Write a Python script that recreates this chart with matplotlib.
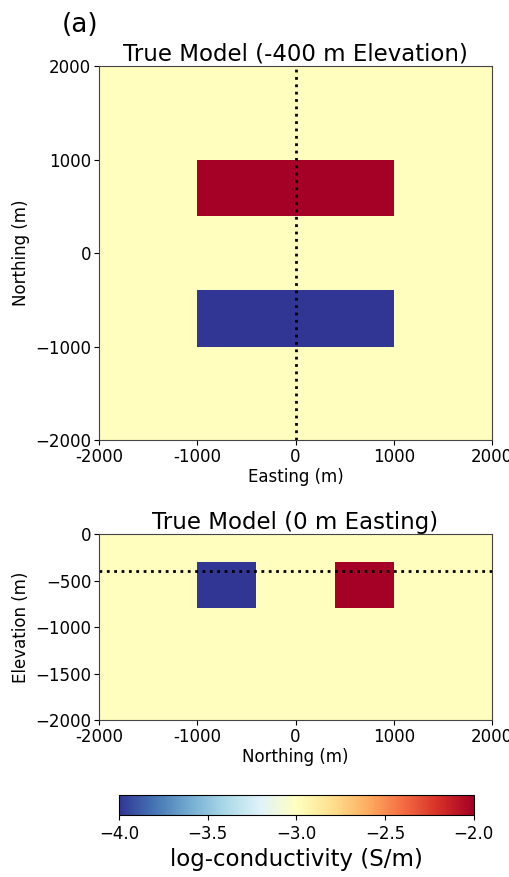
import numpy as np
import matplotlib.pyplot as plt

# === Model values ===
background = -3.0
# plan view (-400 m elevation): [x0, x1, y0, y1, log-conductivity]
plan_blocks = [
    [-1000, 1000, 400, 1000, -2.0],
    [-1000, 1000, -1000, -400, -4.0],
]
# section (0 m easting): [north0, north1, z0, z1, log-conductivity]
section_blocks = [
    [-1000, -400, -800, -300, -4.0],
    [400, 1000, -800, -300, -2.0],
]
xticks = [-2000, -1000, 0, 1000, 2000]
xticklabels = ["-2000", "-1000", "0", "1000", "2000"]
cbar_ticks = [-4.0, -3.5, -3.0, -2.5, -2.0]

# === Grid ===
dx = 50
x_edges = np.arange(-2000, 2000 + dx, dx)
y_edges = np.arange(-2000, 2000 + dx, dx)
z_edges = np.arange(-2000, 0 + dx, dx)


def fill_model(xe, ye, blocks):
    xc = 0.5 * (xe[:-1] + xe[1:])
    yc = 0.5 * (ye[:-1] + ye[1:])
    X, Y = np.meshgrid(xc, yc)
    m = np.full(X.shape, background)
    for x0, x1, y0, y1, v in blocks:
        m[(X > x0) & (X < x1) & (Y > y0) & (Y < y1)] = v
    return m


plan = fill_model(x_edges, y_edges, plan_blocks)
section = fill_model(y_edges, z_edges, section_blocks)

cmap = "RdYlBu_r"
norm = dict(vmin=-4, vmax=-2)
fs_tick = 12
fs_lab = 12
fs_title = 16.5

fig = plt.figure(figsize=(5.1, 8.77), dpi=100)

# === Plan view ===
ax1 = fig.add_axes([0.194, 0.4983, 0.771, 0.4264])
ax1.pcolormesh(x_edges, y_edges, plan, cmap=cmap, **norm)
ax1.axvline(0, color="k", ls=":", lw=2)
ax1.set_xlim(-2000, 2000)
ax1.set_ylim(-2000, 2000)
ax1.set_xticks(xticks)
ax1.set_xticklabels(xticklabels)
ax1.set_yticks(xticks)
ax1.set_xlabel("Easting (m)", fontsize=fs_lab, labelpad=2)
ax1.set_ylabel("Northing (m)", fontsize=fs_lab)
ax1.set_title("True Model (-400 m Elevation)", fontsize=fs_title, pad=4)
ax1.tick_params(labelsize=fs_tick, pad=2)
fig.text(0.121, 0.972, "(a)", fontsize=19, va="center")

# === Section view ===
ax2 = fig.add_axes([0.194, 0.179, 0.771, 0.212])
im = ax2.pcolormesh(y_edges, z_edges, section, cmap=cmap, **norm)
ax2.axhline(-400, color="k", ls=":", lw=2)
ax2.set_xlim(-2000, 2000)
ax2.set_ylim(-2000, 0)
ax2.set_xticks(xticks)
ax2.set_xticklabels(xticklabels)
ax2.set_yticks([-2000, -1500, -1000, -500, 0])
ax2.set_xlabel("Northing (m)", fontsize=fs_lab, labelpad=2)
ax2.set_ylabel("Elevation (m)", fontsize=fs_lab)
ax2.set_title("True Model (0 m Easting)", fontsize=fs_title, pad=4)
ax2.tick_params(labelsize=fs_tick, pad=2)

for ax in (ax1, ax2):
    for s in ax.spines.values():
        s.set_color("#444444")

# === Colorbar ===
cax = fig.add_axes([0.233, 0.0707, 0.696, 0.0228])
cb = fig.colorbar(im, cax=cax, orientation="horizontal", ticks=cbar_ticks)
cb.ax.tick_params(labelsize=fs_tick)
cb.set_label("log-conductivity (S/m)", fontsize=fs_title)

fig.savefig("out.png", dpi=100)
